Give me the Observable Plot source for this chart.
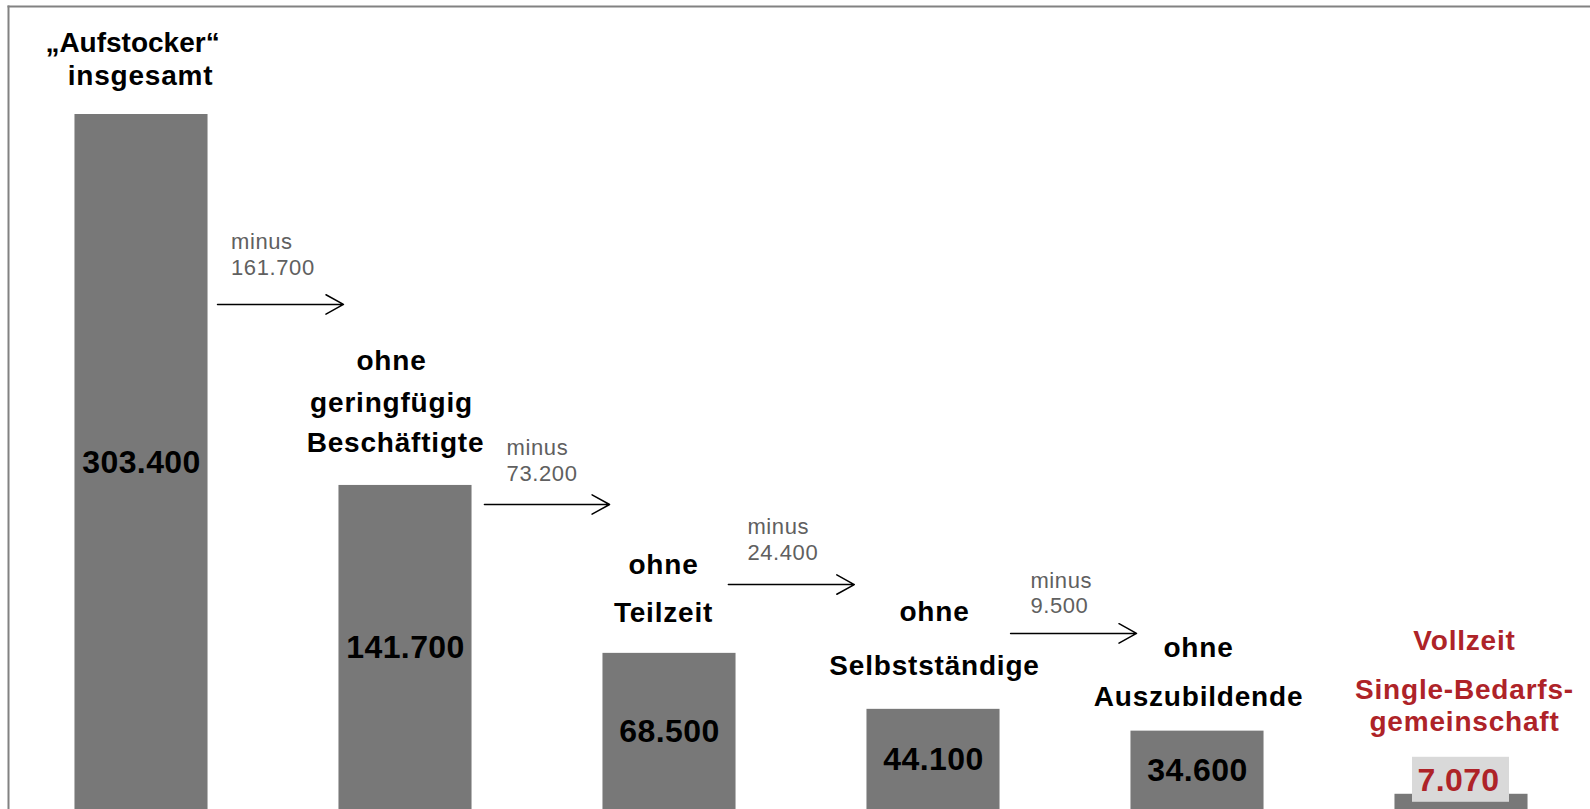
<!DOCTYPE html>
<html>
<head>
<meta charset="utf-8">
<script src="https://cdn.jsdelivr.net/npm/d3@7"></script>
<script src="https://cdn.jsdelivr.net/npm/@observablehq/plot@0.6"></script>
<style>
  html, body { margin: 0; padding: 0; background: #fff; overflow: hidden; }
  #chart svg { display: block; }
  .cat text { letter-spacing: 0.8px; }
  .cat0 text { letter-spacing: 0px; }
  .val text { letter-spacing: 0.4px; }
  .minus text { letter-spacing: 0.6px; }
</style>
</head>
<body>
<div id="chart"></div>
<script>
// ---- Data ----
const categoryLines = [
  ["„Aufstocker“", "insgesamt"],
  ["ohne", "geringfügig", "Beschäftigte"],
  ["ohne", "Teilzeit"],
  ["ohne", "Selbstständige"],
  ["ohne", "Auszubildende"],
  ["Vollzeit", "Single-Bedarfs-", "gemeinschaft"]
];
const values = [303400, 141700, 68500, 44100, 34600, 7070];
const reductions = [161700, 73200, 24400, 9500];
const reductionWord = "minus";

// ---- Layout (annotation placement) ----
const deFormat = d3.formatLocale({decimal: ",", thousands: ".", grouping: [3], currency: ["", " €"]}).format(",");
const labelOffsets = [[-71, -38], [-124, -82, -42], [-88, -40], [-97, -43], [-83, -34], [-153, -104, -72]];
const labelDx = [[-9, -1], [-14, -14, -10], [-6, -6], [1, 1], [1, 1], [3, 3, 3]];
const arrowX = [[0.288, 0.765], [1.299, 1.773], [2.223, 2.70], [3.292, 3.769]];
const arrowLevels = [220600, 133400, 98500, 77200];
const arrowTextX = [0.339, 1.383, 2.295, 3.367];
const arrowTextDy = [[-62, -36], [-57, -31], [-58, -32], [-52, -27]];
const red = "#ae2328";
const font = "'Liberation Sans', Arial, sans-serif";

const bars = values.map((v, i) => ({i, v, label: deFormat(v), last: i === values.length - 1}));
const arrows = reductions.map((r, k) => ({k, x1: arrowX[k][0], x2: arrowX[k][1], y: arrowLevels[k], tx: arrowTextX[k], label: deFormat(r)}));

const marks = [
  Plot.frame({anchor: "left", stroke: "#828282", strokeWidth: 2}),
  Plot.frame({anchor: "top", stroke: "#828282", strokeWidth: 2}),
  Plot.rectY(bars, {x1: d => d.i - 0.252, x2: d => d.i + 0.252, y1: 0, y2: "v", fill: "#787878"}),
  // value labels inside bars (middle of bar)
  Plot.text(bars.filter(d => !d.last), {x: "i", y: d => d.v / 2, text: "label", fontSize: 32, fontWeight: "bold", fill: "#000", lineAnchor: "middle", className: "val"}),
  // highlighted last value with box
  Plot.rect(bars.filter(d => d.last), {x1: "i", x2: "i", y1: "v", y2: "v", insetLeft: -49, insetRight: -48, insetTop: -37, insetBottom: -8, fill: "#d9d9d9"}),
  Plot.text(bars.filter(d => d.last), {x: "i", y: "v", dx: -3, dy: -14, text: "label", fontSize: 32, fontWeight: "bold", fill: red, lineAnchor: "middle", className: "val"}),
  // arrows
  Plot.arrow(arrows, {x1: "x1", x2: "x2", y1: "y", y2: "y", stroke: "#000", strokeWidth: 1.5, headLength: 20, headAngle: 58, bend: 0})
];

arrows.forEach(a => {
  marks.push(Plot.text([a], {x: "tx", y: "y", dy: arrowTextDy[a.k][0], text: () => reductionWord, textAnchor: "start", fontSize: 22, fill: "#606060", lineAnchor: "middle", className: "minus"}));
  marks.push(Plot.text([a], {x: "tx", y: "y", dy: arrowTextDy[a.k][1], text: "label", textAnchor: "start", fontSize: 22, fill: "#606060", lineAnchor: "middle", className: "minus"}));
});

// category labels above bars
categoryLines.forEach((lines, i) => {
  lines.forEach((t, j) => {
    marks.push(Plot.text([{i, v: values[i], t}], {
      x: "i", y: "v", text: "t", dx: labelDx[i][j], dy: labelOffsets[i][j],
      fontSize: 28, fontWeight: "bold", fill: i === values.length - 1 ? red : "#000",
      lineAnchor: "middle", className: (i === 0 && j === 0) ? "cat0" : "cat"
    }));
  });
});

const chart = Plot.plot({
  width: 1590,
  height: 820,
  marginLeft: 8,
  marginTop: 6,
  marginRight: 0,
  marginBottom: 0,
  style: {fontFamily: font, background: "#fff"},
  x: {type: "linear", domain: [0, 5], range: [141, 1461], axis: null},
  y: {domain: [0, 303400], range: [810, 114], axis: null},
  marks
});
document.getElementById("chart").appendChild(chart);
</script>
</body>
</html>
